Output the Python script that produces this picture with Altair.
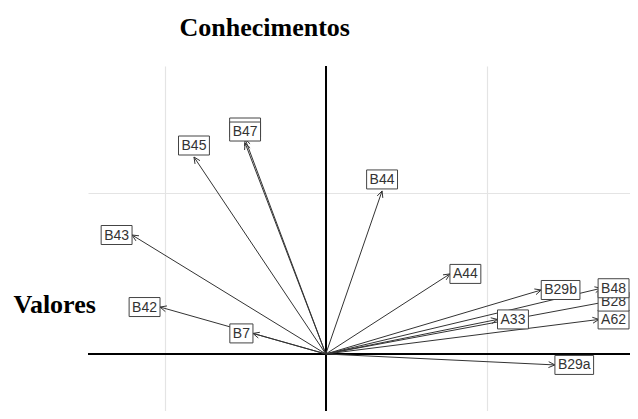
import math
import altair as alt
import pandas as pd

# ---- data ----
# "B46" lies hidden under the B47 label in the reference
names = ["B46", "B47", "B45", "B44", "B43", "B42", "B7", "A44",
         "B29b", "A33", "A62", "B29a", "B28", "B48"]
xs = [-0.502, -0.502, -0.820, 0.350, -1.205, -1.031, -0.453, 0.772,
      1.340, 1.068, 1.699, 1.425, 1.750, 1.713]
ys = [1.337, 1.312, 1.225, 1.014, 0.740, 0.292, 0.128, 0.498,
      0.398, 0.215, 0.215, -0.068, 0.326, 0.409]

x_grid = [-1, 0, 1]
y_grid = [-1, 0, 1]
title_x = "Conhecimentos"
title_y = "Valores"

# ---- layout / style ----
W, H = 542, 345
XDOM = [-1.479, 1.892]
YDOM = [-0.3545, 1.791]
S = W / (XDOM[1] - XDOM[0])   # pixels per unit (same on both axes)
FS = 14
CHAR_W = {d: 0.556 for d in "0123456789"}
CHAR_W.update({"A": 0.667, "B": 0.667, "a": 0.556, "b": 0.556})
BOX_H = 19
PAD = 3

xscale = alt.Scale(domain=XDOM, nice=False, zero=False)
yscale = alt.Scale(domain=YDOM, nice=False, zero=False)
x_axis = alt.Axis(values=x_grid, labels=False, ticks=False, domain=False, grid=True,
                  gridColor="#e4e4e4", gridWidth=1.2, orient="top",
                  title=title_x, titleFont="Liberation Serif", titleFontSize=26,
                  titleFontWeight="bold", titleColor="black", titleAngle=0,
                  titleAlign="left", titleBaseline="alphabetic", titleX=91, titleY=-31)
y_axis = alt.Axis(values=y_grid, labels=False, ticks=False, domain=False, grid=True,
                  gridColor="#e4e4e4", gridWidth=1.2,
                  title=title_y, titleFont="Liberation Serif", titleFontSize=26,
                  titleFontWeight="bold", titleColor="black", titleAngle=0,
                  titleAlign="left", titleBaseline="alphabetic", titleX=-75, titleY=246)


def X(field, **kw):
    return alt.X(field, type="quantitative", scale=xscale, axis=x_axis, **kw)


def Y(field, **kw):
    return alt.Y(field, type="quantitative", scale=yscale, axis=y_axis, **kw)


rows, heads = [], []
for i, (n, x, y) in enumerate(zip(names, xs, ys)):
    norm = math.hypot(x, y)
    ux, uy = -x / norm, -y / norm
    L = 7 / S
    for a in (25, -25):
        r = math.radians(a)
        bx = ux * math.cos(r) - uy * math.sin(r)
        by = ux * math.sin(r) + uy * math.cos(r)
        heads.append({"x": x, "y": y, "hx": x + L * bx, "hy": y + L * by})
    ang = math.degrees(math.atan2(y, x))
    tw = sum(CHAR_W.get(c, 0.6) for c in n) * FS
    bw = (tw + 2 * PAD) / S
    bh = BOX_H / S
    if 45 < ang < 135:
        x1, x2 = x - bw / 2, x + bw / 2
        y1, y2 = y + 2 / S, y + 2 / S + bh
    elif x < 0:
        x1, x2 = x - bw, x
        y1, y2 = y - bh / 2, y + bh / 2
    else:
        x1, x2 = x, x + bw
        y1, y2 = y - bh / 2, y + bh / 2
    # keep every label box inside the plot area
    lim = XDOM[1] - 1 / S
    if x2 > lim:
        x1, x2 = lim - bw, lim
    rows.append({"name": n, "x0": 0.0, "y0": 0.0, "x": x, "y": y, "order": i,
                 "x1": x1, "x2": x2, "y1": y1, "y2": y2,
                 "cx": (x1 + x2) / 2, "cy": (y1 + y2) / 2})

df = pd.DataFrame(rows)
dh = pd.DataFrame(heads)

vline = alt.Chart(df).mark_rule(color="black", strokeWidth=1).encode(
    x=alt.X(datum=0, type="quantitative", scale=xscale, axis=x_axis))
hline = alt.Chart(df).mark_rule(color="black", strokeWidth=1).encode(
    y=alt.Y(datum=0, type="quantitative", scale=yscale, axis=y_axis))

shafts = alt.Chart(df).mark_rule(color="#333333", strokeWidth=1, clip=True).encode(
    x=X("x0"), y=Y("y0"), x2="x", y2="y")
barbs = alt.Chart(dh).mark_rule(color="#333333", strokeWidth=1, clip=True).encode(
    x=X("x"), y=Y("y"), x2="hx", y2="hy")

layers = [vline, hline, shafts, barbs]
for i in range(len(df)):
    sub = df.iloc[[i]]
    layers.append(alt.Chart(sub).mark_rect(fill="white", stroke="#444444",
                                           strokeWidth=1, clip=True).encode(
        x=X("x1"), x2="x2", y=Y("y1"), y2="y2"))
    layers.append(alt.Chart(sub).mark_text(font="Liberation Sans", fontSize=FS,
                                           color="#333333", align="center",
                                           baseline="middle", dy=0.5, clip=True).encode(
        x=X("cx"), y=Y("cy"), text="name:N"))

chart = alt.layer(*layers).properties(
    width=W, height=H,
    autosize=alt.AutoSizeParams(type="none"),
    padding={"left": 80, "top": 58, "right": 0, "bottom": 0},
    background="white",
).configure_view(stroke=None)

chart.save("out.html", embed_options={"renderer": "svg", "actions": False})
